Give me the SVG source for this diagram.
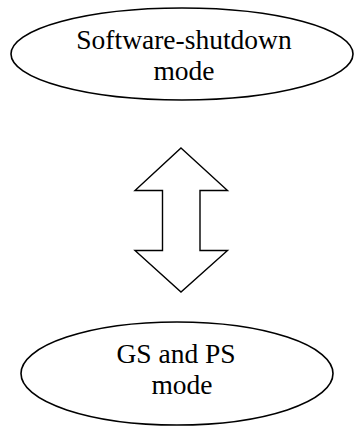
<svg xmlns="http://www.w3.org/2000/svg" width="354" height="428" viewBox="0 0 354 428">
<style>
.node { fill: #fff; stroke: #000; stroke-width: 1.6; }
.lbl { font-family: "Liberation Serif", "Times New Roman", serif; font-size: 27.5px; fill: #000; text-anchor: middle; }
.conn { fill: #fff; stroke: #000; stroke-width: 1.4; stroke-linejoin: miter; }
</style>
<rect width="354" height="428" fill="#fff"/>
<g id="node-software-shutdown">
<ellipse class="node" cx="182" cy="54" rx="171" ry="46"/>
<text class="lbl" x="184" y="49">Software-shutdown</text>
<text class="lbl" x="184" y="80">mode</text>
</g>
<g id="connectors">
<path class="conn" d="M181,148 L227.5,190.5 L200,190.5 L200,250.5 L227.5,250.5 L181,292 L135,250.5 L162.5,250.5 L162.5,190.5 L135,190.5 Z"/>
</g>
<g id="node-gs-ps">
<ellipse class="node" cx="177" cy="373.5" rx="156" ry="51.5"/>
<text class="lbl" x="176" y="363">GS and PS</text>
<text class="lbl" x="182" y="394">mode</text>
</g>
</svg>
